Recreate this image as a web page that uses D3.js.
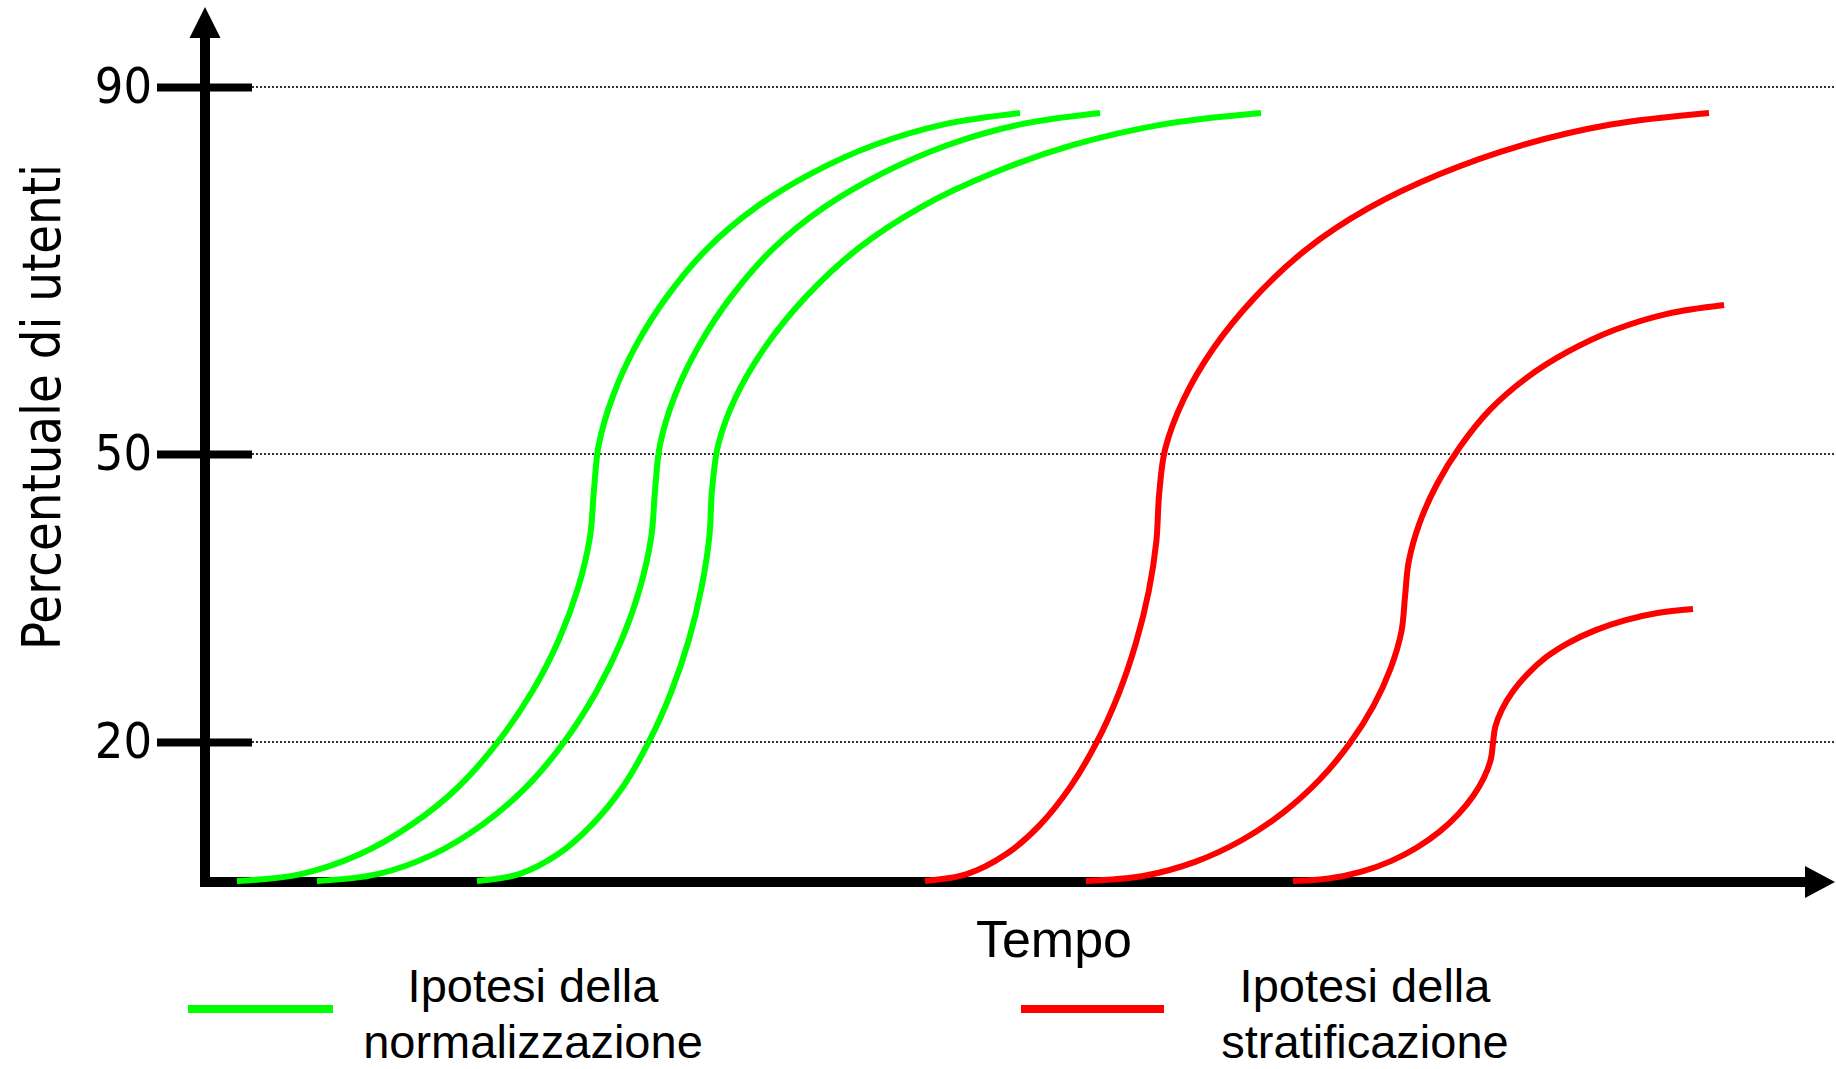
<!DOCTYPE html>
<html>
<head>
<meta charset="utf-8">
<script src="https://cdn.jsdelivr.net/npm/d3@7"></script>
<style>
  body { margin: 0; background: #fff; }
  svg { display: block; }
</style>
</head>
<body>
<div id="container"></div>
<script>
var width = 1836,
    height = 1069;

// ---- data (time in arbitrary units, value = % of users) ----
var yTicks = [20, 50, 90];
var xLabel = "Tempo";
var yLabel = "Percentuale di utenti";

// "Ipotesi della normalizzazione" curves
var normTimes = [
  [2.0, 5.99, 9.63, 12.92, 15.83, 18.34, 20.44, 22.11, 23.32, 24.06, 24.31,
   24.61, 25.5, 26.94, 28.93, 31.44, 34.44, 37.91, 41.83, 46.18, 50.94],
  [7.0, 10.78, 14.23, 17.34, 20.09, 22.48, 24.46, 26.04, 27.19, 27.89, 28.13,
   28.44, 29.36, 30.88, 32.95, 35.56, 38.7, 42.33, 46.43, 50.97, 55.94],
  [17.0, 19.63, 22.03, 24.19, 26.11, 27.76, 29.14, 30.24, 31.03, 31.52, 31.69,
   32.08, 33.21, 35.08, 37.64, 40.87, 44.73, 49.21, 54.26, 59.87, 66.0]
];
var normValues = [
  [0, 0.99, 3.80, 8.12, 13.53, 20.08, 25.23, 30.63, 36.07, 41.35, 46.25,
   51.02, 56.34, 61.84, 67.29, 72.47, 76.89, 80.59, 83.68, 85.93, 87.17],
  [0, 0.99, 3.80, 8.12, 13.53, 20.08, 25.23, 30.63, 36.07, 41.35, 46.25,
   51.02, 56.34, 61.84, 67.29, 72.47, 76.89, 80.59, 83.68, 85.93, 87.17],
  [0, 0.99, 3.80, 8.12, 13.53, 20.08, 25.23, 30.63, 36.07, 41.35, 46.25,
   51.02, 56.34, 61.84, 67.29, 72.47, 76.89, 80.59, 83.68, 85.93, 87.17]
];

// "Ipotesi della stratificazione" curves
var stratTimes = [
  [45.0, 47.61, 50.01, 52.16, 54.06, 55.71, 57.09, 58.18, 58.98, 59.46, 59.63,
   60.01, 61.16, 63.02, 65.59, 68.82, 72.69, 77.18, 82.24, 87.86, 94.0],
  [55.06, 58.63, 61.88, 64.82, 67.42, 69.67, 71.54, 73.03, 74.11, 74.78, 75.0,
   75.23, 75.89, 76.97, 78.46, 80.33, 82.58, 85.18, 88.12, 91.38, 94.94],
  [68.0, 70.23, 72.28, 74.12, 75.75, 77.16, 78.33, 79.26, 79.94, 80.36, 80.5,
   80.64, 81.06, 81.74, 82.67, 83.84, 85.25, 86.88, 88.73, 90.77, 93.0]
];
var stratValues = [
  [0, 0.98, 3.76, 8.01, 13.47, 19.86, 24.97, 30.30, 35.68, 40.90, 45.73,
   50.54, 55.94, 61.50, 67.02, 72.28, 76.76, 80.51, 83.62, 85.91, 87.17],
  [0, 0.72, 2.76, 5.90, 9.91, 14.60, 19.77, 23.76, 27.71, 31.54, 35.10,
   38.76, 42.71, 46.77, 50.84, 54.86, 58.28, 61.15, 63.54, 65.28, 66.24],
  [0, 0.35, 1.34, 2.86, 4.82, 7.10, 9.61, 12.24, 14.90, 17.47, 19.86,
   21.57, 23.39, 25.25, 27.10, 28.86, 30.36, 31.63, 32.67, 33.44, 33.85]
];

var legendLabels = [["Ipotesi della", "normalizzazione"], ["Ipotesi della", "stratificazione"]];
var legendColors = ["#00ff00", "#ff0000"];

// ---- svg ----
var svg = d3.select("#container")
            .append("svg")
            .attr("width", width)
            .attr("height", height);

var x = d3.scaleLinear().domain([0, 100]).range([205, 1805]);
// the drawing is schematic: ticks are not evenly spaced
var y = d3.scaleLinear().domain([0, 20, 50, 90]).range([881, 742, 454, 87]);

// dotted gridlines
svg.append("g").attr("class", "grid")
   .selectAll("line")
   .data(yTicks)
   .enter().append("line")
   .attr("x1", 252).attr("x2", width)
   .attr("y1", function(d){ return y(d); })
   .attr("y2", function(d){ return y(d); })
   .attr("stroke", "#333")
   .attr("stroke-width", 2)
   .attr("stroke-dasharray", "2,2");

// y axis with crossing ticks
var yAxis = d3.axisLeft(y).tickValues(yTicks).tickFormat(d3.format("d"));
var gy = svg.append("g")
   .attr("class", "y axis")
   .attr("transform", "translate(205,0)")
   .call(yAxis);
gy.select(".domain").remove();
gy.selectAll(".tick line")
  .attr("x1", 47).attr("x2", -48)
  .attr("stroke", "#000")
  .attr("stroke-width", 8);
gy.selectAll(".tick text")
  .attr("x", -53)
  .attr("y", 15)
  .attr("dy", null)
  .attr("fill", "#000")
  .style("font-family", "'DejaVu Sans Condensed', 'DejaVu Sans', sans-serif")
  .style("font-stretch", "condensed")
  .style("font-size", "50px");

// axis lines + arrows
var axes = svg.append("g").attr("class", "axes");
axes.append("path")
    .attr("d", "M205,887V36")
    .attr("stroke", "#000").attr("stroke-width", 10);
axes.append("path")
    .attr("d", "M200,882H1807")
    .attr("stroke", "#000").attr("stroke-width", 10);
axes.append("path")
    .attr("d", "M205,7L220.5,38L189.5,38Z")
    .attr("fill", "#000");
axes.append("path")
    .attr("d", "M1835,882L1805,866L1805,898Z")
    .attr("fill", "#000");

// curves (drawn over the axis, as in the original)
var line = d3.line()
    .x(function(d){ return x(d[0]); })
    .y(function(d){ return y(d[1]); })
    .curve(d3.curveCatmullRom.alpha(0.5));

function pairs(ts, vs){
  return ts.map(function(t, i){ return [t, vs[i]]; });
}

var curves = svg.append("g").attr("class", "curves");

curves.selectAll(".norm")
  .data(normTimes.map(function(ts, i){ return pairs(ts, normValues[i]); }))
  .enter().append("path")
  .attr("class", "norm")
  .attr("d", line)
  .attr("fill", "none")
  .attr("stroke", legendColors[0])
  .attr("stroke-width", 6);

curves.selectAll(".strat")
  .data(stratTimes.map(function(ts, i){ return pairs(ts, stratValues[i]); }))
  .enter().append("path")
  .attr("class", "strat")
  .attr("d", line)
  .attr("fill", "none")
  .attr("stroke", legendColors[1])
  .attr("stroke-width", 6);

// axis titles
svg.append("text")
   .attr("transform", "translate(60,407) rotate(-90)")
   .attr("text-anchor", "middle")
   .attr("textLength", 486)
   .attr("lengthAdjust", "spacingAndGlyphs")
   .style("font-family", "'DejaVu Sans Condensed', 'DejaVu Sans', sans-serif")
   .style("font-stretch", "condensed")
   .style("font-size", "54px")
   .text(yLabel);

svg.append("text")
   .attr("x", 1054).attr("y", 957)
   .attr("text-anchor", "middle")
   .style("font-family", "'Liberation Sans', Arial, sans-serif")
   .style("font-size", "52px")
   .text(xLabel);

// legend
var legend = svg.append("g").attr("class", "legend");
var legendLineX = [[188, 333], [1021, 1164]];
var legendTextX = [533, 1365];

var items = legend.selectAll(".item")
  .data(legendLabels)
  .enter().append("g")
  .attr("class", "item");

items.append("line")
  .attr("x1", function(d, i){ return legendLineX[i][0]; })
  .attr("x2", function(d, i){ return legendLineX[i][1]; })
  .attr("y1", 1009).attr("y2", 1009)
  .attr("stroke", function(d, i){ return legendColors[i]; })
  .attr("stroke-width", 8);

items.append("text")
  .attr("x", function(d, i){ return legendTextX[i]; })
  .attr("y", 1002)
  .attr("text-anchor", "middle")
  .style("font-family", "'Liberation Sans', Arial, sans-serif")
  .style("font-size", "47px")
  .text(function(d){ return d[0]; });

items.append("text")
  .attr("x", function(d, i){ return legendTextX[i]; })
  .attr("y", 1058)
  .attr("text-anchor", "middle")
  .style("font-family", "'Liberation Sans', Arial, sans-serif")
  .style("font-size", "47px")
  .text(function(d){ return d[1]; });
</script>
</body>
</html>
